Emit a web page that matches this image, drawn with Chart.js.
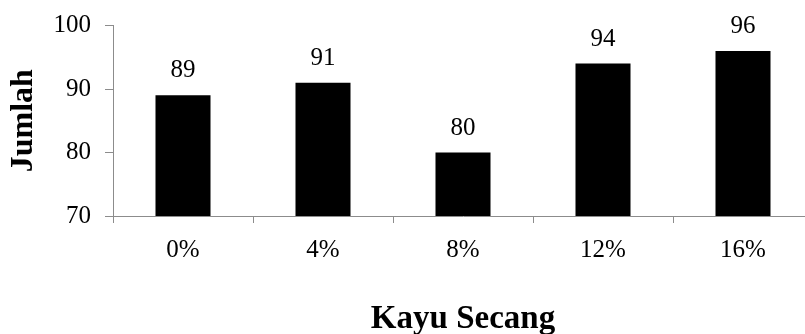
<!DOCTYPE html>
<html>
<head>
<meta charset="utf-8">
<script src="https://cdn.jsdelivr.net/npm/chart.js@4.4.1/dist/chart.umd.min.js"></script>
<style>
  html, body { margin: 0; padding: 0; background: #fff; overflow: hidden; }
  #wrap { width: 813px; height: 334px; }
</style>
</head>
<body>
<div id="wrap"><canvas id="c"></canvas></div>
<script>
// Kayu Secang concentration and counted totals
const categories = ['0%', '4%', '8%', '12%', '16%'];
const jumlah = [89, 91, 80, 94, 96];
const yTicks = [70, 80, 90, 100];

const serif = '"Liberation Serif", "Times New Roman", serif';
const axisGrey = '#8c8c8c';

// Writes each bar's value above it
const valueLabels = {
  id: 'valueLabels',
  afterDatasetsDraw(chart) {
    const ctx = chart.ctx;
    const meta = chart.getDatasetMeta(0);
    ctx.save();
    ctx.fillStyle = '#000';
    ctx.font = '25px ' + serif;
    ctx.textAlign = 'center';
    ctx.textBaseline = 'alphabetic';
    meta.data.forEach((bar, i) => {
      ctx.fillText(String(jumlah[i]), bar.x, bar.y - 18);
    });
    ctx.restore();
  }
};

new Chart(document.getElementById('c'), {
  type: 'bar',
  data: {
    labels: categories,
    datasets: [{
      data: jumlah,
      backgroundColor: '#000',
      borderWidth: 0,
      barPercentage: 1,
      categoryPercentage: 0.393
    }]
  },
  options: {
    responsive: true,
    maintainAspectRatio: false,
    animation: false,
    layout: { padding: { top: 25.5, left: 0, right: 0, bottom: 0 } },
    plugins: { legend: { display: false }, tooltip: { enabled: false } },
    scales: {
      x: {
        grid: { display: true, drawOnChartArea: false, drawTicks: true, tickLength: 7, color: axisGrey, offset: true },
        border: { display: true, color: axisGrey, width: 1 },
        ticks: { color: '#000', font: { family: serif, size: 25 }, padding: 12, maxRotation: 0 },
        title: { display: true, text: 'Kayu Secang', color: '#000', font: { family: serif, size: 33, weight: 'bold', lineHeight: 0.9 }, padding: { top: 0, bottom: 0 } },
        afterFit(s) { s.height = 118; }
      },
      y: {
        min: 70,
        max: 100,
        afterBuildTicks(s) { s.ticks = yTicks.map(v => ({ value: v })); },
        grid: { display: true, drawOnChartArea: false, drawTicks: true, tickLength: 8, color: axisGrey },
        border: { display: true, color: axisGrey, width: 1 },
        ticks: { color: '#000', font: { family: serif, size: 25 }, padding: 14 },
        title: { display: true, text: 'Jumlah', color: '#000', font: { family: serif, size: 32, weight: 'bold', lineHeight: 0.9 }, padding: { top: 9, bottom: 0 } },
        afterFit(s) { s.width = 113; s.paddingTop = 0; s.paddingBottom = 0; }
      }
    }
  },
  plugins: [valueLabels]
});
</script>
</body>
</html>
